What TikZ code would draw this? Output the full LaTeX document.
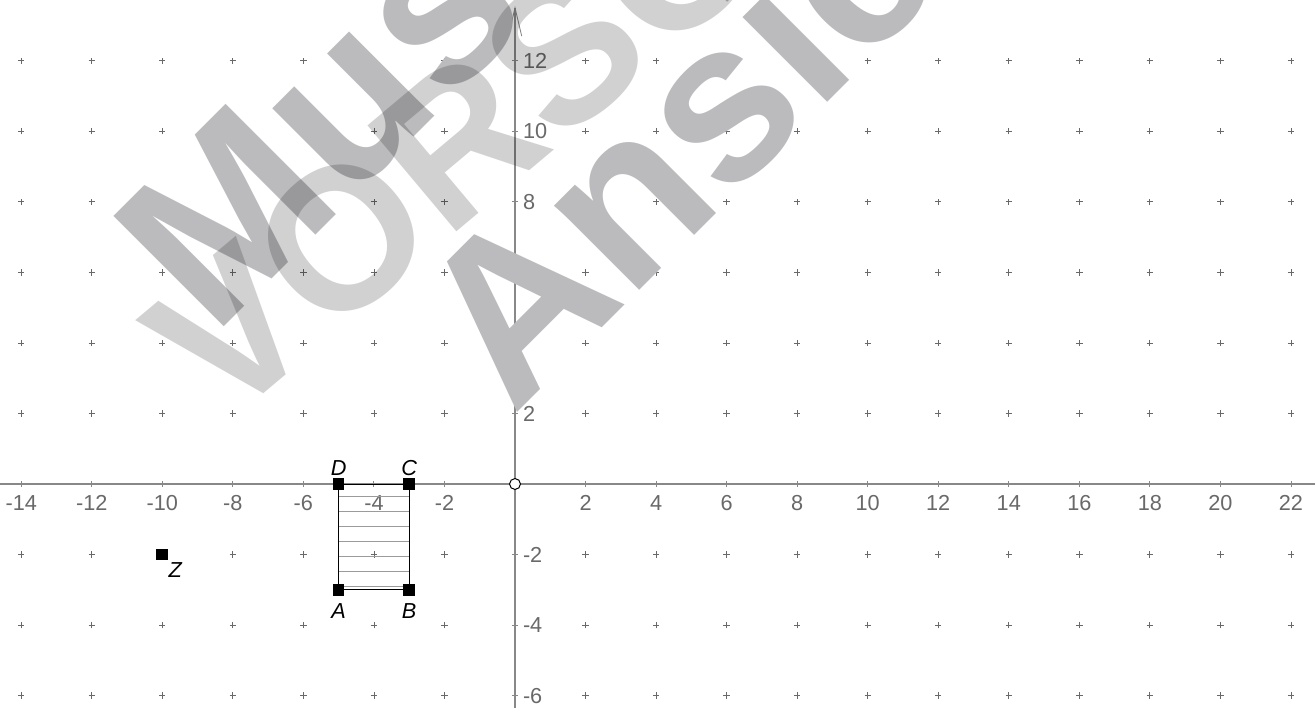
\documentclass[tikz,border=0pt]{standalone}
\usepackage{fontspec}
\setmainfont{Liberation Sans}
\definecolor{wmdark}{RGB}{187,186,189}
\definecolor{axisgray}{RGB}{136,136,136}
\definecolor{gridgray}{RGB}{105,105,105}
\definecolor{labelgray}{RGB}{105,105,105}
\definecolor{hatchgray}{RGB}{155,155,155}
\tikzset{
  gridplus/.style={draw=gridgray, line width=0.65pt},
  axisline/.style={draw=axisgray, line width=0.9pt},
  ticklbl/.style={text=labelgray, inner sep=0pt, font=\fontsize{17.5}{17.5}\selectfont},
  ptsq/.style={rectangle, fill=black, minimum size=0.33cm, inner sep=0pt},
  ptlbl/.style={text=black, inner sep=0pt, font=\fontsize{17.5}{17.5}\selectfont\itshape},
  edge/.style={draw=black, line width=0.8pt},
  hatch/.style={draw=hatchgray, line width=1.2pt},
  wmword/.style={anchor=base west, inner sep=0pt, text=wmdark, font=\fontsize{183}{183}\selectfont\bfseries},
  wmlight/.style={anchor=base west, inner sep=0pt, text=black, text opacity=0.18, font=\fontsize{162.2}{162.2}\selectfont\bfseries}
}
\begin{document}
\begin{tikzpicture}[x=1cm,y=1cm]
\useasboundingbox (-14.602,-6.351) rectangle (22.682,13.723);
\begin{scope}
\clip (-14.602,-6.351) rectangle (22.682,13.723);
\fill[white] (-14.602,-6.351) rectangle (22.682,13.723);
% grid
\foreach \gx in {-14,-12,...,22}{
  \foreach \gy in {-6,-4,...,12}{
    \ifnum\gx=0 \else\ifnum\gy=0 \else
      \draw[gridplus] (\gx-0.09,\gy) -- (\gx+0.09,\gy) (\gx,\gy-0.09) -- (\gx,\gy+0.09);
    \fi\fi
  }
}
% axes
\coordinate (xl) at (-14.602,0);
\coordinate (xr) at (22.682,0);
\coordinate (yb) at (0,-6.351);
\coordinate (yt) at (0,13.5);
\coordinate (ybl) at (-0.19,12.7);
\coordinate (ybr) at (0.19,12.7);
\draw[axisline] (xl) -- (xr);
\draw[axisline] (yb) -- (yt);
\draw[axisline, line width=0.7pt] (ybl) -- (yt) -- (ybr);
\foreach \gx in {-14,-12,...,22}{
  \ifnum\gx=0 \else
    \draw[axisline, line width=0.7pt] (\gx,-0.09) -- (\gx,0.09);
    \node[ticklbl, anchor=base] (xlab\gx) at (\gx,-0.737) {\gx};
  \fi
}
\foreach \gy in {-6,-4,...,12}{
  \ifnum\gy=0 \else
    \draw[axisline, line width=0.7pt] (-0.09,\gy) -- (0.09,\gy);
  \fi
}
\foreach \gy in {-6,-4,-2,2,8,10,12}{
  \node[ticklbl, anchor=west] (ylab\gy) at (0.22,\gy) {\gy};
}
% rectangle ABCD
\coordinate (A) at (-5,-3);
\coordinate (B) at (-3,-3);
\coordinate (C) at (-3,0);
\coordinate (D) at (-5,0);
\foreach \k in {0,...,6}{
  \draw[hatch] (-5,-0.36-0.425*\k) -- (-3,-0.36-0.425*\k);
}
\draw[edge] (A) -- (B) -- (C) -- (D) -- cycle;
\node[ptsq] (Asq) at (A) {};
\node[ptsq] (Bsq) at (B) {};
\node[ptsq] (Csq) at (C) {};
\node[ptsq] (Dsq) at (D) {};
\node[ptsq] (Zsq) at (-10,-2) {};
\node[ptlbl, anchor=north] (Alab) at ([yshift=-0.2cm]Asq.south) {A};
\node[ptlbl, anchor=north] (Blab) at ([yshift=-0.2cm]Bsq.south) {B};
\node[ptlbl, anchor=south] (Clab) at ([yshift=0.05cm]Csq.north) {C};
\node[ptlbl, anchor=south] (Dlab) at ([yshift=0.05cm]Dsq.north) {D};
\node[ptlbl, anchor=north west] (Zlab) at ([yshift=-0.05cm]Zsq.south east) {Z};
% origin
\node[circle, draw=black, fill=white, line width=0.8pt, minimum size=0.31cm, inner sep=0pt] (O) at (0,0) {};
% watermark
\node[wmword, rotate=45] (wm1) at (-8.554,4.159) {Muster};
\node[wmword, rotate=45] (wm3) at (-0.057,1.900) {Ansicht};
\node[wmlight, rotate=40] (wm2) at (-8.265,1.605) {VORSCHAU};
\end{scope}
\end{tikzpicture}
\end{document}
